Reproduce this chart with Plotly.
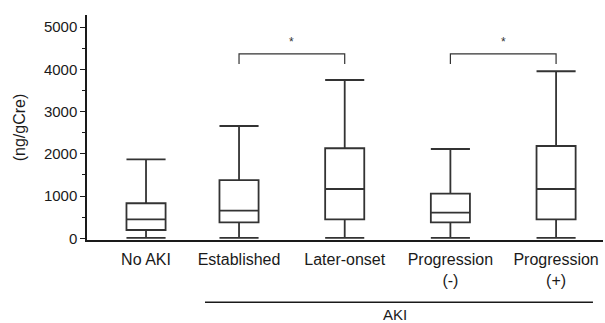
import plotly.graph_objects as go

categories = ["No AKI", "Established", "Later-onset", "Progression<br>(-)", "Progression<br>(+)"]
lower_fence = [8, 8, 8, 8, 8]
q1 = [197, 379, 450, 379, 450]
median = [450, 654, 1168, 607, 1168]
q3 = [830, 1380, 2133, 1057, 2187]
upper_fence = [1872, 2660, 3750, 2116, 3957]
y_ticks = [0, 1000, 2000, 3000, 4000, 5000]
comparisons = [(1, 2, "*"), (3, 4, "*")]

positions = [0.12, 1, 2, 3, 4]
line_col = "#333333"
text_col = "#1a1a1a"
font_family = "Liberation Sans, Arial, sans-serif"

fig = go.Figure()
fig.add_trace(go.Box(
    x=positions, q1=q1, median=median, q3=q3,
    lowerfence=lower_fence, upperfence=upper_fence,
    width=0.37, whiskerwidth=1,
    line=dict(color=line_col, width=1.8),
    fillcolor="rgba(255,255,255,0)",
    boxpoints=False, showlegend=False, hoverinfo="skip",
))

shapes = []
annotations = []
y_bar = 4370
y_drop = 4130
for a, b, label in comparisons:
    xa, xb = positions[a], positions[b]
    shapes.append(dict(type="path", xref="x", yref="y",
                       path=f"M {xa} {y_drop} L {xa} {y_bar} L {xb} {y_bar} L {xb} {y_drop}",
                       line=dict(color=line_col, width=1.2)))
    annotations.append(dict(x=(xa + xb) / 2, y=4640, xref="x", yref="y", text=label,
                            showarrow=False, font=dict(size=12, color=line_col, family=font_family)))

# AKI group line
shapes.append(dict(type="line", xref="x", yref="paper", x0=0.678, x1=4.349, y0=-0.277, y1=-0.277,
                   line=dict(color=text_col, width=1.5)))
annotations.append(dict(x=2.48, y=-0.33, xref="x", yref="paper", text="AKI", showarrow=False,
                        font=dict(size=15, color=text_col, family=font_family), yanchor="middle"))

fig.update_layout(
    width=605, height=323,
    margin=dict(l=87, r=2, t=15, b=83),
    paper_bgcolor="white", plot_bgcolor="white",
    font=dict(family=font_family, color=text_col),
    shapes=shapes, annotations=annotations,
    xaxis=dict(range=[-0.4385, 4.444], tickvals=positions, ticktext=categories,
               showline=True, linecolor=text_col, linewidth=1.5, ticks="",
               showgrid=False, zeroline=False, tickfont=dict(size=16), ticklabelstandoff=4,
               automargin=False),
    yaxis=dict(range=[-40, 5290], tickvals=y_ticks, showline=True, linecolor=text_col,
               linewidth=1.5, ticks="outside", ticklen=5, tickwidth=1.3, tickcolor=text_col,
               minor=dict(ticks="outside", ticklen=3, dtick=500, tickcolor=text_col, tickwidth=1.2),
               showgrid=False, zeroline=False, tickfont=dict(size=15), automargin=False,
               title=dict(text="(ng/gCre)", font=dict(size=16), standoff=14)),
)

fig.write_html("out.html", config={"displayModeBar": False},
               post_script="document.body.style.margin='0px';document.body.style.overflow='hidden';")
